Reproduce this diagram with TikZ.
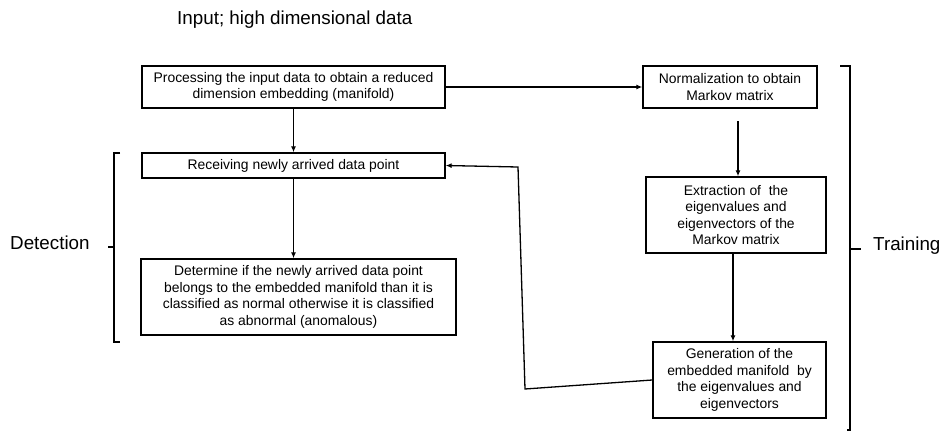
\documentclass[tikz,border=0pt]{standalone}
\usepackage{fontspec}
\setmainfont{Liberation Sans}
\usetikzlibrary{arrows.meta}
\tikzset{
  box/.style={draw, line width=1.4pt, align=center, inner sep=0pt,
    font=\fontsize{13.9pt}{16.5pt}\selectfont},
  lbl/.style={font=\fontsize{18.8pt}{22pt}\selectfont, inner sep=0pt},
  arr/.style={line width=1.3pt, -{Latex[length=6pt,width=5pt]}},
  brk/.style={line width=1.3pt},
}
\begin{document}
\begin{tikzpicture}[x=1pt,y=-1pt]
\useasboundingbox (0,0) rectangle (942,431);
\node[lbl, anchor=west] (inp) at (177,20) {Input; high dimensional data};
\node[box, minimum width=303pt, minimum height=42pt] (proc) at (293.5,87)
  {Processing the input data to obtain a reduced\\dimension embedding (manifold)};
\node[box, minimum width=174pt, minimum height=42pt] (norm) at (730,87)
  {Normalization to obtain\\Markov matrix};
\node[box, minimum width=303pt, minimum height=25pt] (recv) at (293.5,165.5)
  {Receiving newly arrived data point};
\node[box, minimum width=315pt, minimum height=76pt] (det) at (298.5,297)
  {Determine if the newly arrived data point\\belongs to the embedded manifold than it is\\classified as normal otherwise it is classified\\as abnormal (anomalous)};
\node[box, minimum width=180pt, minimum height=76pt] (ext) at (736,215)
  {Extraction of\ \ the\\eigenvalues and\\eigenvectors of the\\Markov matrix};
\node[box, minimum width=173pt, minimum height=76pt] (gen) at (739.5,380)
  {Generation of the\\embedded manifold\ \ by\\the eigenvalues and\\eigenvectors};
\node[lbl, anchor=west] (det-l) at (10,243) {Detection};
\node[lbl, anchor=west] (trn-l) at (873,246) {Training};

\coordinate (x733) at (733,0);
\coordinate (x738) at (738,0);
\coordinate (n2s) at (738,121);
\draw[arr] (proc.east) -- (norm.west);
\draw[arr] (proc.south) -- (recv.north);
\draw[arr] (recv.south) -- (recv.south |- det.north);
\draw[arr] (x733 |- ext.south) -- (x733 |- gen.north);
\draw[arr] (n2s) -- (x738 |- ext.north);
\coordinate (fb1) at (525,389);
\coordinate (fb2) at (518,167);
\draw[arr] (gen.west) -- (fb1) -- (fb2) -- (recv.east);

% brackets
\coordinate (rb1) at (840,66);
\coordinate (rb2) at (850,66);
\coordinate (rb3) at (850,430);
\coordinate (rb4) at (847,430);
\coordinate (rt1) at (850,249);
\coordinate (rt2) at (861,249);
\draw[brk] (rb1) -- (rb2) -- (rb3) -- (rb4);
\draw[brk] (rt1) -- (rt2);
\coordinate (lb1) at (120,153);
\coordinate (lb2) at (114,153);
\coordinate (lb3) at (114,342);
\coordinate (lb4) at (120,342);
\coordinate (lt1) at (114,247);
\coordinate (lt2) at (108,247);
\draw[brk] (lb1) -- (lb2) -- (lb3) -- (lb4);
\draw[brk] (lt1) -- (lt2);
\end{tikzpicture}
\end{document}
